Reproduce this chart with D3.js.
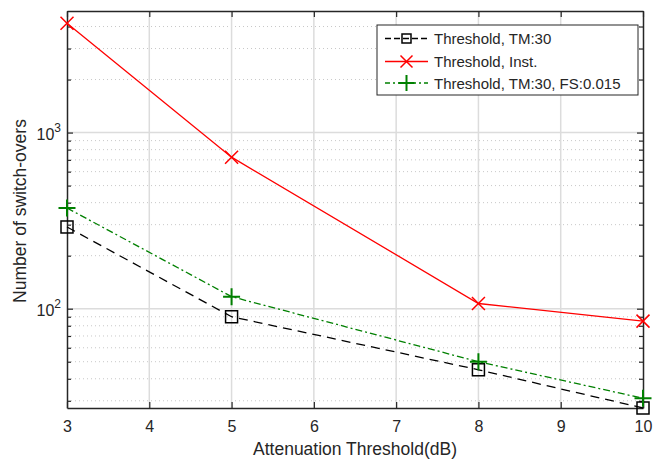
<!DOCTYPE html>
<html>
<head>
<meta charset="utf-8">
<script src="https://cdn.jsdelivr.net/npm/d3@7"></script>
<style>
  html, body { margin: 0; padding: 0; background: #fff; }
  svg { display: block; font-family: "Liberation Sans", Arial, Helvetica, sans-serif; }
</style>
</head>
<body>
<svg id="chart" width="657" height="459"></svg>
<script>
// Attenuation threshold (dB) values on the x axis
const thresholds = [3, 5, 8, 10];

// Number of switch-overs per policy
const tm30 = [291, 90, 45, 27.3];
const inst = [4170, 725, 107, 85];
const tm30fs = [373, 117, 50, 31];

const seriesNames = ["Threshold, TM:30", "Threshold, Inst.", "Threshold, TM:30, FS:0.015"];

const xTicks = [3, 4, 5, 6, 7, 8, 9, 10];
const yMajorTicks = [100, 1000];
const yMinorTicks = [30, 40, 50, 60, 70, 80, 90, 200, 300, 400, 500, 600, 700, 800, 900, 2000, 3000, 4000];

const svg = d3.select("#chart");
const margin = { left: 67, top: 11, right: 14, bottom: 51 };
const W = 657, H = 459;
const x0 = margin.left, x1 = W - margin.right, y0 = margin.top, y1 = H - margin.bottom;

const x = d3.scaleLinear().domain([3, 10]).range([x0, x1]);
const y = d3.scaleLog().domain([27.3, 4900]).range([y1, y0]);

const gridColor = "#dcdcdc";
const axisColor = "#262626";

// minor grid (dotted)
svg.append("g").selectAll("line").data(yMinorTicks).join("line")
  .attr("x1", x0).attr("x2", x1)
  .attr("y1", d => y(d)).attr("y2", d => y(d))
  .attr("stroke", "#c8c8c8").attr("stroke-width", 1)
  .attr("stroke-dasharray", "1,3");

// major grid
svg.append("g").selectAll("line").data(xTicks.slice(1, -1)).join("line")
  .attr("x1", d => x(d)).attr("x2", d => x(d))
  .attr("y1", y0).attr("y2", y1)
  .attr("stroke", gridColor).attr("stroke-width", 1.5);
svg.append("g").selectAll("line").data(yMajorTicks).join("line")
  .attr("x1", x0).attr("x2", x1)
  .attr("y1", d => y(d)).attr("y2", d => y(d))
  .attr("stroke", gridColor).attr("stroke-width", 1.5);

// axes with inward ticks
const xAxisBottom = d3.axisBottom(x).tickValues(xTicks).tickSizeInner(-6).tickSizeOuter(0).tickPadding(13).tickFormat(d3.format("d"));
const xAxisTop = d3.axisTop(x).tickValues(xTicks).tickSizeInner(-6).tickSizeOuter(0).tickFormat("");
const yAxisLeft = d3.axisLeft(y).tickValues(yMajorTicks.concat(yMinorTicks)).tickSizeOuter(0).tickFormat("");
const yAxisRight = d3.axisRight(y).tickValues(yMajorTicks.concat(yMinorTicks)).tickSizeOuter(0).tickFormat("");

function styleAxis(g) {
  g.select(".domain").attr("stroke", axisColor).attr("stroke-width", 1.5);
  g.selectAll(".tick line").attr("stroke", axisColor).attr("stroke-width", 1.2);
  g.selectAll(".tick text").attr("fill", axisColor).attr("font-size", 16).attr("font-family", "Liberation Sans, Arial, sans-serif");
}

svg.append("g").attr("transform", `translate(0,${y1})`).call(xAxisBottom).call(styleAxis);
svg.append("g").attr("transform", `translate(0,${y0})`).call(xAxisTop).call(styleAxis);
const gl = svg.append("g").attr("transform", `translate(${x0},0)`).call(yAxisLeft).call(styleAxis);
const gr = svg.append("g").attr("transform", `translate(${x1},0)`).call(yAxisRight).call(styleAxis);
gl.selectAll(".tick line").attr("x2", d => yMajorTicks.includes(d) ? 6 : 4);
gr.selectAll(".tick line").attr("x2", d => yMajorTicks.includes(d) ? -6 : -4);

// y tick labels 10^2, 10^3
yMajorTicks.forEach(v => {
  const t = svg.append("text")
    .attr("x", x0 - 6).attr("y", y(v) + 7)
    .attr("text-anchor", "end").attr("fill", axisColor).attr("font-size", 16);
  t.append("tspan").text("10");
  t.append("tspan").attr("dy", -8).attr("font-size", 12).text(Math.round(Math.log10(v)));
});

// axis titles
svg.append("text").attr("x", (x0 + x1) / 2).attr("y", 455)
  .attr("text-anchor", "middle").attr("fill", axisColor).attr("font-size", 17.5)
  .text("Attenuation Threshold(dB)");
svg.append("text")
  .attr("transform", `translate(26,211) rotate(-90)`)
  .attr("text-anchor", "middle").attr("fill", axisColor).attr("font-size", 17.5)
  .text("Number of switch-overs");

// series
const series = [
  { name: seriesNames[0], values: tm30, color: "#000000", dash: "9,6", marker: "square" },
  { name: seriesNames[1], values: inst, color: "#ff0000", dash: null, marker: "x" },
  { name: seriesNames[2], values: tm30fs, color: "#008000", dash: "7,3,2,3", marker: "plus" }
];

const line = d3.line().x(d => x(d[0])).y(d => y(d[1]));

function drawMarker(g, type, cx, cy, color, s) {
  if (type === "square") {
    g.append("rect").attr("x", cx - s / 2).attr("y", cy - s / 2).attr("width", s).attr("height", s)
      .attr("fill", "none").attr("stroke", color).attr("stroke-width", 1.5);
  } else if (type === "x") {
    const h = s / 2;
    g.append("path").attr("d", `M${cx - h},${cy - h}L${cx + h},${cy + h}M${cx - h},${cy + h}L${cx + h},${cy - h}`)
      .attr("stroke", color).attr("stroke-width", 1.5).attr("fill", "none");
  } else {
    const h = s / 2;
    g.append("path").attr("d", `M${cx - h},${cy}L${cx + h},${cy}M${cx},${cy - h}L${cx},${cy + h}`)
      .attr("stroke", color).attr("stroke-width", 2).attr("fill", "none");
  }
}

const markerSize = { square: 12, x: 13, plus: 17 };

series.forEach(s => {
  const pts = thresholds.map((t, i) => [t, s.values[i]]);
  svg.append("path").datum(pts).attr("d", line)
    .attr("fill", "none").attr("stroke", s.color).attr("stroke-width", 1.3)
    .attr("stroke-dasharray", s.dash);
  const g = svg.append("g");
  pts.forEach(p => drawMarker(g, s.marker, x(p[0]), y(p[1]), s.color, markerSize[s.marker]));
});

// legend
const lg = svg.append("g");
lg.append("rect").attr("x", 377).attr("y", 25).attr("width", 261).attr("height", 70)
  .attr("fill", "#fff").attr("stroke", "#262626").attr("stroke-width", 1);
const rowY = [38.5, 61.5, 83];
series.forEach((s, i) => {
  lg.append("line").attr("x1", 385).attr("x2", 428).attr("y1", rowY[i]).attr("y2", rowY[i])
    .attr("stroke", s.color).attr("stroke-width", 1.3)
    .attr("stroke-dasharray", s.marker === "square" ? "6,3" : (s.marker === "plus" ? "5,3,2,3" : null));
  drawMarker(lg, s.marker, 406.5, rowY[i], s.color, s.marker === "square" ? 9 : (s.marker === "x" ? 12 : 16));
  lg.append("text").attr("x", 434).attr("y", rowY[i] + 5.5)
    .attr("fill", "#262626").attr("font-size", 15).text(s.name);
});
</script>
</body>
</html>
